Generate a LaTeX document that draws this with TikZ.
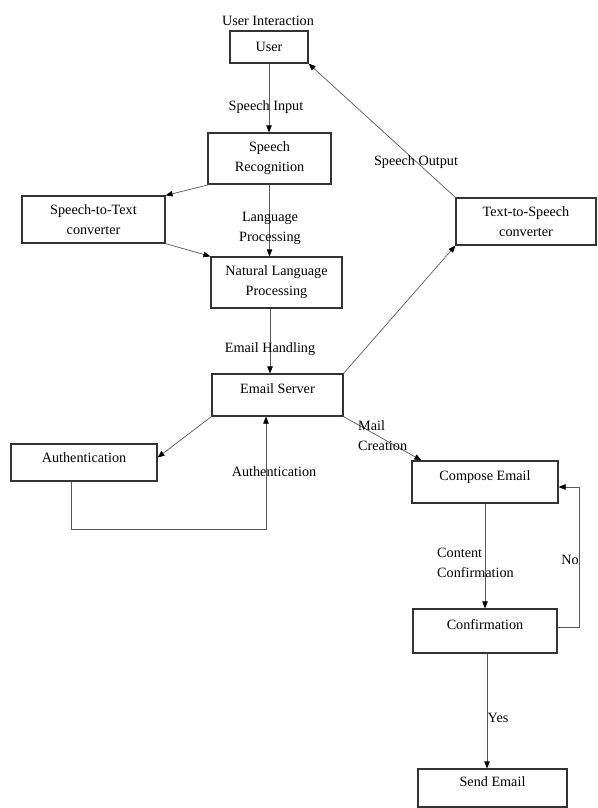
\documentclass[tikz,border=0pt]{standalone}
\usepackage{fontspec}
\setmainfont{Liberation Serif}
\usetikzlibrary{arrows.meta}
\begin{document}
\begin{tikzpicture}[x=1pt,y=-1pt,
  every node/.style={font=\fontsize{14.2}{20}\selectfont, text=black},
  box/.style={draw=black!80, line width=1.2pt, fill=white, align=center, inner sep=2pt},
  upbox/.style={box, text depth=13pt},
  conn/.style={draw=black!65, line width=0.7pt},
  arr/.style={conn, -{Triangle[length=7pt,width=5.5pt,color=black]}},
  lbl/.style={align=center, inner sep=0pt},
  lbll/.style={align=left, inner sep=0pt, anchor=west}]
\useasboundingbox[fill=white] (0,0) rectangle (597,808);

% boxes
\node[box, minimum width=78, minimum height=32] (user) at (269,47) {User};
\node[box, minimum width=123, minimum height=51] (sr) at (269.5,158.5) {Speech\\Recognition};
\node[box, minimum width=143, minimum height=47] (stt) at (93.5,219.5) {Speech-to-Text\\converter};
\node[box, minimum width=131, minimum height=51] (nlp) at (276.5,282.5) {Natural Language\\Processing};
\node[upbox, minimum width=131, minimum height=42] (es) at (277.5,395) {Email Server};
\node[box, text depth=10pt, minimum width=146, minimum height=37] (auth) at (84,462.5) {Authentication};
\node[box, minimum width=140, minimum height=47] (tts) at (526,221.5) {Text-to-Speech\\converter};
\node[upbox, minimum width=146, minimum height=42] (compose) at (485,482) {Compose Email};
\node[upbox, minimum width=144, minimum height=44] (conf) at (485,631) {Confirmation};
\node[upbox, minimum width=149, minimum height=38] (send) at (492.5,788) {Send Email};

% connectors
\draw[arr] (user.south) -- (user.south |- sr.north);
\draw[arr] ([xshift=2pt]sr.south west) -- (stt.north east);
\draw[arr] (stt.south east) -- (nlp.north west);
\draw[arr] (sr.south) -- (sr.south |- nlp.north);
\draw[arr] ([xshift=-6.5pt]nlp.south) -- ([xshift=-7.5pt]es.north);
\draw[arr] (es.north east) -- (tts.south west);
\draw[arr] (tts.north west) -- (user.south east);
\draw[arr] (es.south west) -- ([yshift=5pt]auth.east);
\draw[arr] ([xshift=-13pt]auth.south) -- ++(0,48) -| ([xshift=-11.5pt]es.south);
\draw[arr] (es.south east) -- ([xshift=10pt]compose.north west);
\draw[arr] (compose.south) -- (conf.north);
\draw[arr] ([yshift=4pt]conf.east) -- ++(22,0) |- ([yshift=-5pt]compose.east);
\draw[arr] ([xshift=2pt]conf.south) -- ([xshift=-5.5pt]send.north);

% labels
\node[lbl] (lui) at (268,20.5) {User Interaction};
\node[lbl] (lsi) at (266,107.5) {Speech Input};
\node[lbl] (llp) at (270,228.5) {Language\\Processing};
\node[lbl] (lso) at (416,162.5) {Speech Output};
\node[lbl] (leh) at (270,349.5) {Email Handling};
\node[lbl] (lau) at (274,471.5) {Authentication};
\node[lbll] (lmc) at (358,436) {Mail\\Creation};
\node[lbll] (lcc) at (437,562.5) {Content\\Confirmation};
\node[lbl] (lno) at (570,559.5) {No};
\node[lbl] (lye) at (498,717.5) {Yes};
\end{tikzpicture}
\end{document}
